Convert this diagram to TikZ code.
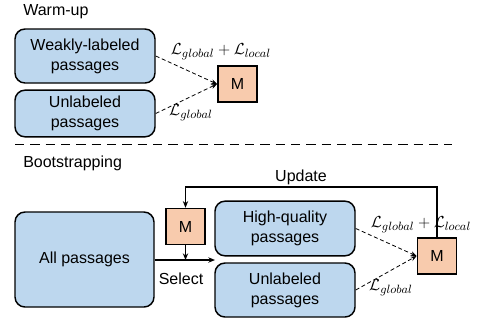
\documentclass[tikz,border=0pt]{standalone}
\usepackage{amsmath, amssymb}
\usepackage{fontspec}
\setmainfont{Liberation Sans}
\usetikzlibrary{arrows.meta}

\begin{document}
\begin{tikzpicture}[x=0.75pt,y=0.75pt,yscale=-1,xscale=1,
    txt/.style={font=\fontsize{12}{15}\selectfont, inner sep=0.75pt},
    lossl/.style={font=\fontsize{13}{15}\selectfont, inner sep=0.75pt},
    psg/.style={draw, line width=1.1pt, rounded corners=7.5pt, fill={rgb,255:red,189; green,215; blue,238}, align=center, font=\fontsize{12}{15}\selectfont, inner sep=0pt},
    mdl/.style={draw, line width=1.1pt, fill={rgb,255:red,248; green,203; blue,173}, minimum width=29.5pt, minimum height=27pt, font=\fontsize{12}{15}\selectfont, inner sep=0pt},
    loss/.style={draw, densely dashed, line width=0.6pt, -{Stealth[length=4.5pt,width=3.5pt]}},
    flow/.style={draw, line width=1pt, -{Stealth[length=5pt,width=4pt]}}]

    \useasboundingbox (0,0) rectangle (478,322);

    % Warm-up
    \node (warm) [txt, anchor=base west] at (22,15) {Warm-up};
    \node (weak) [psg, minimum width=105pt, minimum height=40.5pt] at (85,56) {Weakly-labeled\\passages};
    \node (unla) [psg, minimum width=105pt, minimum height=35pt] at (85,113.5) {Unlabeled\\passages};
    \node (mwarm) [mdl] at (237.5,84) {M};

    \draw [loss] (weak.east) -- (mwarm.west);
    \draw [loss] (unla.east) -- (mwarm.west);
    \node (lwa) [lossl] at (221,52) {$\mathcal{L}_{global}+\mathcal{L}_{local}$};
    \node (lwb) [lossl] at (191,113) {$\mathcal{L}_{global}$};

    % Separator
    \draw [dashed, line width=1.1pt, dash pattern=on 7pt off 4.5pt] (15,144.5) -- (452,144.5);

    % Bootstrapping
    \node (boot) [txt, anchor=base west] at (22,167) {Bootstrapping};
    \node (allp) [psg, minimum width=104.25pt, minimum height=71.25pt] at (84.5,259.5) {All passages};
    \node (msel) [mdl] at (185.5,226.5) {M};
    \node (high) [psg, minimum width=105pt, minimum height=41pt] at (285,228.5) {High-quality\\passages};
    \node (unlb) [psg, minimum width=105pt, minimum height=40.5pt] at (285,290) {Unlabeled\\passages};
    \node (mboot) [mdl] at (437,256) {M};

    % Lines
    \coordinate (upd) at (437,187);
    \coordinate (sel) at (215,260);
    \draw [flow] (mboot.north) -- (upd) -| (msel.north);
    \node (updl) [txt] at (301,177) {Update};
    \draw [flow] (allp.east |- sel) -- (sel);
    \draw [flow] (msel.south) -- (msel.south |- sel);
    \node (sell) [txt] at (181,279) {Select};

    \draw [loss] (high.east) -- (mboot.west);
    \draw [loss] (unlb.east) -- (mboot.west);
    \node (lba) [lossl] at (421,225) {$\mathcal{L}_{global}+\mathcal{L}_{local}$};
    \node (lbb) [lossl] at (391,288) {$\mathcal{L}_{global}$};

\end{tikzpicture}
\end{document}
